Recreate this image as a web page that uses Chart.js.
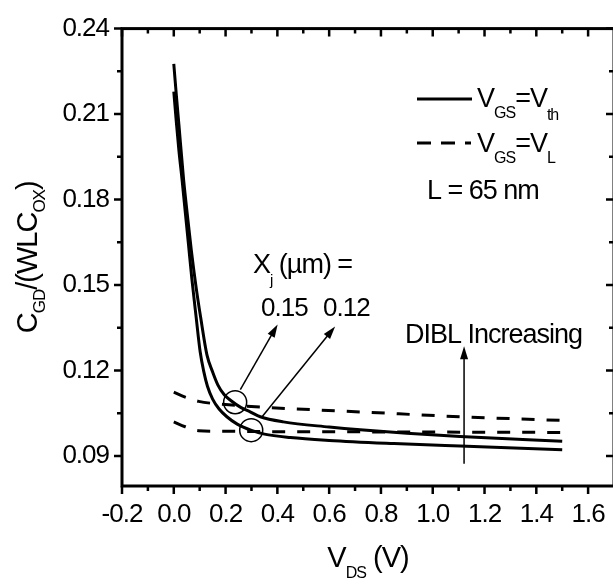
<!DOCTYPE html>
<html>
<head>
<meta charset="utf-8">
<script src="https://cdn.jsdelivr.net/npm/chart.js@4/dist/chart.umd.min.js"></script>
<style>
html,body{margin:0;padding:0;overflow:hidden;background:#fff}
</style>
</head>
<body>
<canvas id="chart1" width="620" height="584" style="display:block;width:620px;height:584px"></canvas>
<script>
// values
var vdsSolidHigh = [0, 0.01, 0.02, 0.038, 0.052, 0.068, 0.085, 0.104, 0.128, 0.15, 0.17, 0.195, 0.22, 0.26, 0.295, 0.334, 0.423, 0.6, 0.72, 0.9, 1.106, 1.5];
var cgdSolidHigh = [0.2276, 0.2165, 0.206, 0.1869, 0.175, 0.162, 0.15, 0.1385, 0.1255, 0.1195, 0.115, 0.1115, 0.1095, 0.107, 0.1055, 0.1038, 0.102, 0.1002, 0.0992, 0.098, 0.0969, 0.0952];
var vdsSolidLow = [0, 0.01, 0.02, 0.032, 0.045, 0.057, 0.07, 0.086, 0.102, 0.115, 0.13, 0.15, 0.175, 0.205, 0.245, 0.3, 0.35, 0.45, 0.6, 0.85, 1.106, 1.5];
var cgdSolidLow = [0.2179, 0.207, 0.197, 0.1869, 0.175, 0.164, 0.152, 0.139, 0.1265, 0.12, 0.1145, 0.11, 0.1065, 0.1038, 0.1012, 0.099, 0.0977, 0.0965, 0.0955, 0.0944, 0.0935, 0.0922];
var vdsDashHigh = [0, 0.044, 0.096, 0.2, 0.334, 0.72, 1.106, 1.5];
var cgdDashHigh = [0.1124, 0.1107, 0.1092, 0.1081, 0.1072, 0.1055, 0.1038, 0.1025];
var vdsDashLow = [0, 0.044, 0.096, 0.2, 0.334, 0.72, 1.106, 1.5];
var cgdDashLow = [0.102, 0.1003, 0.0989, 0.0987, 0.0986, 0.0985, 0.0984, 0.0983];

var xTicks = [-0.2, 0.0, 0.2, 0.4, 0.6, 0.8, 1.0, 1.2, 1.4, 1.6];
var xMinor = [-0.1, 0.1, 0.3, 0.5, 0.7, 0.9, 1.1, 1.3, 1.5];
var yTicks = [0.09, 0.12, 0.15, 0.18, 0.21, 0.24];
var yMinor = [0.105, 0.135, 0.165, 0.195, 0.225];

var FONT = "'Liberation Sans', Arial, sans-serif";

function pts(xs, ys){
	var out = [];
	for(var i=0;i<xs.length;i++){
		out.push({x:xs[i], y:ys[i]});
	}
	return out;
}

// draws text pieces one after another, [text, size, yShift]
function richText(ctx, parts, x, y){
	var cx = x;
	for(var i=0;i<parts.length;i++){
		ctx.font = parts[i][1] + "px " + FONT;
		ctx.fillText(parts[i][0], cx, y + parts[i][2]);
		cx += ctx.measureText(parts[i][0]).width;
	}
	return cx - x;
}
function richWidth(ctx, parts){
	var w = 0;
	for(var i=0;i<parts.length;i++){
		ctx.font = parts[i][1] + "px " + FONT;
		w += ctx.measureText(parts[i][0]).width;
	}
	return w;
}
function arrow(ctx, x1, y1, x2, y2){
	var a = Math.atan2(y2-y1, x2-x1);
	var len = 13, hw = 4;
	ctx.beginPath();
	ctx.moveTo(x1, y1);
	ctx.lineTo(x2 - Math.cos(a)*len*0.8, y2 - Math.sin(a)*len*0.8);
	ctx.stroke();
	ctx.beginPath();
	ctx.moveTo(x2, y2);
	ctx.lineTo(x2 - Math.cos(a)*len + Math.sin(a)*hw, y2 - Math.sin(a)*len - Math.cos(a)*hw);
	ctx.lineTo(x2 - Math.cos(a)*len - Math.sin(a)*hw, y2 - Math.sin(a)*len + Math.cos(a)*hw);
	ctx.closePath();
	ctx.fill();
}

var decor = {
	id:"decor",
	beforeDraw:function(chart){
		chart.ctx.letterSpacing = "-1px";
	},
	afterDraw:function(chart){
		var ctx = chart.ctx;
		var a = chart.chartArea;
		var xs = chart.scales.x, ys = chart.scales.y;
		ctx.save();
		ctx.strokeStyle = "#000";
		ctx.fillStyle = "#000";
		ctx.letterSpacing = "-1px";

		// frame
		ctx.lineWidth = 3;
		ctx.strokeRect(a.left, a.top, a.right - a.left, a.bottom - a.top);

		// tick marks
		ctx.lineWidth = 2.5;
		ctx.beginPath();
		xTicks.concat(xMinor).forEach(function(v, i){
			var p = xs.getPixelForValue(v);
			var l = i < xTicks.length ? 8 : 5;
			ctx.moveTo(p, a.bottom); ctx.lineTo(p, a.bottom + l);
			ctx.moveTo(p, a.top); ctx.lineTo(p, a.top + l);
		});
		yTicks.concat(yMinor).forEach(function(v, i){
			var p = ys.getPixelForValue(v);
			var l = i < yTicks.length ? 8 : 5;
			ctx.moveTo(a.left, p); ctx.lineTo(a.left - l, p);
			ctx.moveTo(a.right, p); ctx.lineTo(a.right - l, p);
		});
		ctx.stroke();

		// axis titles
		ctx.textAlign = "left";
		ctx.textBaseline = "alphabetic";
		var xt = [["V",29,0],["DS",16,11],[" (V)",29,0]];
		var w = richWidth(ctx, xt);
		richText(ctx, xt, (a.left + a.right)/2 - w/2, 567);

		var yt = [["C",29,0],["GD",17,8],["/(WLC",29,0],["OX",17,8],[")",29,0]];
		w = richWidth(ctx, yt);
		ctx.save();
		ctx.translate(37, (a.top + a.bottom)/2 + w/2);
		ctx.rotate(-Math.PI/2);
		richText(ctx, yt, 0, 0);
		ctx.restore();

		// legend
		ctx.lineWidth = 3;
		ctx.beginPath();
		ctx.moveTo(417, 99); ctx.lineTo(472, 99);
		ctx.stroke();
		ctx.setLineDash([14, 10]);
		ctx.beginPath();
		ctx.moveTo(417, 143); ctx.lineTo(471, 143);
		ctx.stroke();
		ctx.setLineDash([]);
		richText(ctx, [["V",27,0],["GS",16,11],["=V",27,0],["th",16,13]], 477, 107);
		richText(ctx, [["V",27,0],["GS",16,11],["=V",27,0],["L",16,11]], 477, 152);
		richText(ctx, [["L = 65 nm",27,0]], 427, 199);

		// labels
		richText(ctx, [["X",27,0],["j",15,12],[" (\u00b5m) =",27,0]], 253, 273);
		richText(ctx, [["0.15",26,0]], 261, 316);
		richText(ctx, [["0.12",26,0]], 323, 316);
		richText(ctx, [["DIBL Increasing",27,0]], 405, 343);

		// circles and arrows
		ctx.lineWidth = 1.5;
		[[0.237, 0.1089], [0.299, 0.0991]].forEach(function(c){
			ctx.beginPath();
			ctx.arc(xs.getPixelForValue(c[0]), ys.getPixelForValue(c[1]), 11.5, 0, Math.PI*2);
			ctx.stroke();
		});
		arrow(ctx, xs.getPixelForValue(0.257), ys.getPixelForValue(0.1133), xs.getPixelForValue(0.401), ys.getPixelForValue(0.1362));
		arrow(ctx, xs.getPixelForValue(0.341), ys.getPixelForValue(0.1038), xs.getPixelForValue(0.623), ys.getPixelForValue(0.1355));
		arrow(ctx, xs.getPixelForValue(1.121), ys.getPixelForValue(0.0873), xs.getPixelForValue(1.121), ys.getPixelForValue(0.1285));
		ctx.restore();
	}
};

var lineStyle = {showLine:true, pointRadius:0, borderColor:"#000", borderWidth:3, fill:false, cubicInterpolationMode:"monotone"};

var chart = new Chart(document.getElementById("chart1").getContext("2d"), {
	type:"scatter",
	data:{
		datasets:[
			Object.assign({label:"solid 0.15", data:pts(vdsSolidHigh, cgdSolidHigh)}, lineStyle),
			Object.assign({label:"solid 0.12", data:pts(vdsSolidLow, cgdSolidLow)}, lineStyle),
			Object.assign({label:"dash high", data:pts(vdsDashHigh, cgdDashHigh), borderDash:[13,12]}, lineStyle),
			Object.assign({label:"dash low", data:pts(vdsDashLow, cgdDashLow), borderDash:[13,12]}, lineStyle)
		]
	},
	options:{
		responsive:false,
		animation:false,
		layout:{padding:{left:0, right:6, top:19, bottom:0}},
		plugins:{legend:{display:false}, tooltip:{enabled:false}},
		scales:{
			x:{
				type:"linear", min:-0.2, max:1.7,
				grid:{display:false, drawTicks:false},
				border:{display:false},
				ticks:{color:"#000", font:{size:26, family:FONT}, padding:13, autoSkip:false, maxRotation:0,
					callback:function(v){ return v.toFixed(1); }},
				afterBuildTicks:function(s){ s.ticks = xTicks.map(function(v){ return {value:v}; }); },
				afterFit:function(s){ s.height = 98; }
			},
			y:{
				type:"linear", min:0.0795, max:0.24,
				grid:{display:false, drawTicks:false},
				border:{display:false},
				ticks:{color:"#000", font:{size:26, family:FONT}, padding:13, autoSkip:false,
					callback:function(v){ return v.toFixed(2); }},
				afterBuildTicks:function(s){ s.ticks = yTicks.map(function(v){ return {value:v}; }); },
				afterFit:function(s){ s.width = 122; }
			}
		}
	},
	plugins:[decor]
});
</script>
</body>
</html>
